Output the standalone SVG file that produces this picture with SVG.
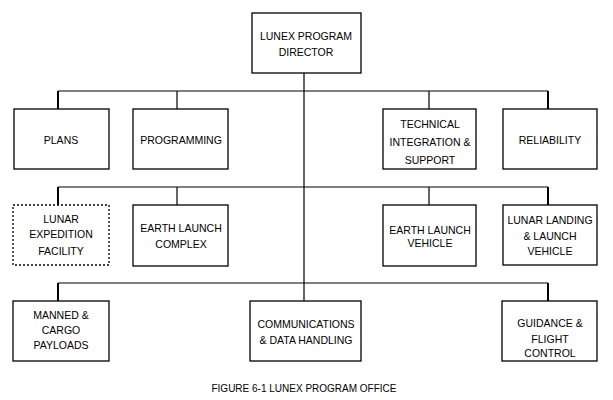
<svg xmlns="http://www.w3.org/2000/svg" width="613" height="400" viewBox="0 0 613 400">
<style>
.box{fill:#fff;stroke:#000;stroke-width:1.3}
.dash{fill:#fff;stroke:#000;stroke-width:1.3;stroke-dasharray:2,2}
.c{fill:none;stroke:#000;stroke-width:1.2}
.s{fill:none;stroke:#000;stroke-width:2}
text{font-family:"Liberation Sans",Arial,sans-serif;font-size:10.5px;text-anchor:middle;fill:#000}
</style>
<rect width="613" height="400" fill="#fff"/>
<g id="connectors">
<line class="c" x1="304" y1="73" x2="304" y2="301"/>
<line class="c" x1="58" y1="91" x2="548" y2="91"/>
<line class="s" x1="58" y1="91" x2="58" y2="109"/>
<line class="c" x1="177" y1="91" x2="177" y2="109"/>
<line class="c" x1="429" y1="91" x2="429" y2="109"/>
<line class="s" x1="548" y1="91" x2="548" y2="109"/>
<line class="c" x1="58" y1="187" x2="548" y2="187"/>
<line class="s" x1="58" y1="187" x2="58" y2="205"/>
<line class="c" x1="177" y1="187" x2="177" y2="205"/>
<line class="c" x1="429" y1="187" x2="429" y2="205"/>
<line class="s" x1="548" y1="187" x2="548" y2="205"/>
<line class="c" x1="58" y1="283" x2="548" y2="283"/>
<line class="s" x1="58" y1="283" x2="58" y2="301"/>
<line class="s" x1="548" y1="283" x2="548" y2="301"/>
</g>
<g id="director"><rect class="box" x="252" y="13" width="109" height="60"/><text x="306" y="40">LUNEX PROGRAM</text><text x="306" y="56">DIRECTOR</text></g>
<g id="plans"><rect class="box" x="14" y="109" width="95" height="60"/><text x="61" y="144">PLANS</text></g>
<g id="programming"><rect class="box" x="133" y="109" width="95" height="60"/><text x="181" y="144">PROGRAMMING</text></g>
<g id="technical"><rect class="box" x="383" y="109" width="93" height="60"/><text x="430" y="128">TECHNICAL</text><text x="430" y="146">INTEGRATION &amp;</text><text x="430" y="164">SUPPORT</text></g>
<g id="reliability"><rect class="box" x="503" y="109" width="94" height="60"/><text x="550" y="144">RELIABILITY</text></g>
<g id="lunar-expedition"><rect class="dash" x="13" y="205" width="96" height="60"/><text x="61" y="223">LUNAR</text><text x="61" y="238">EXPEDITION</text><text x="61" y="255">FACILITY</text></g>
<g id="earth-launch-complex"><rect class="box" x="133" y="205" width="95" height="61"/><text x="181" y="232">EARTH LAUNCH</text><text x="181" y="248">COMPLEX</text></g>
<g id="earth-launch-vehicle"><rect class="box" x="383" y="205" width="93" height="61"/><text x="430" y="234">EARTH LAUNCH</text><text x="430" y="247">VEHICLE</text></g>
<g id="lunar-landing"><rect class="box" x="503" y="205" width="94" height="60"/><text x="550" y="224">LUNAR LANDING</text><text x="550" y="240">&amp; LAUNCH</text><text x="550" y="255">VEHICLE</text></g>
<g id="manned-cargo"><rect class="box" x="13" y="301" width="96" height="60"/><text x="61" y="319">MANNED &amp;</text><text x="61" y="334">CARGO</text><text x="61" y="349">PAYLOADS</text></g>
<g id="communications"><rect class="box" x="250" y="301" width="111" height="60"/><text x="306" y="328">COMMUNICATIONS</text><text x="306" y="344">&amp; DATA HANDLING</text></g>
<g id="guidance"><rect class="box" x="502" y="301" width="95" height="60"/><text x="550" y="327">GUIDANCE &amp;</text><text x="550" y="343">FLIGHT</text><text x="550" y="357">CONTROL</text></g>
<text x="304" y="392" style="font-size:10px">FIGURE 6-1 LUNEX PROGRAM OFFICE</text>
</svg>
